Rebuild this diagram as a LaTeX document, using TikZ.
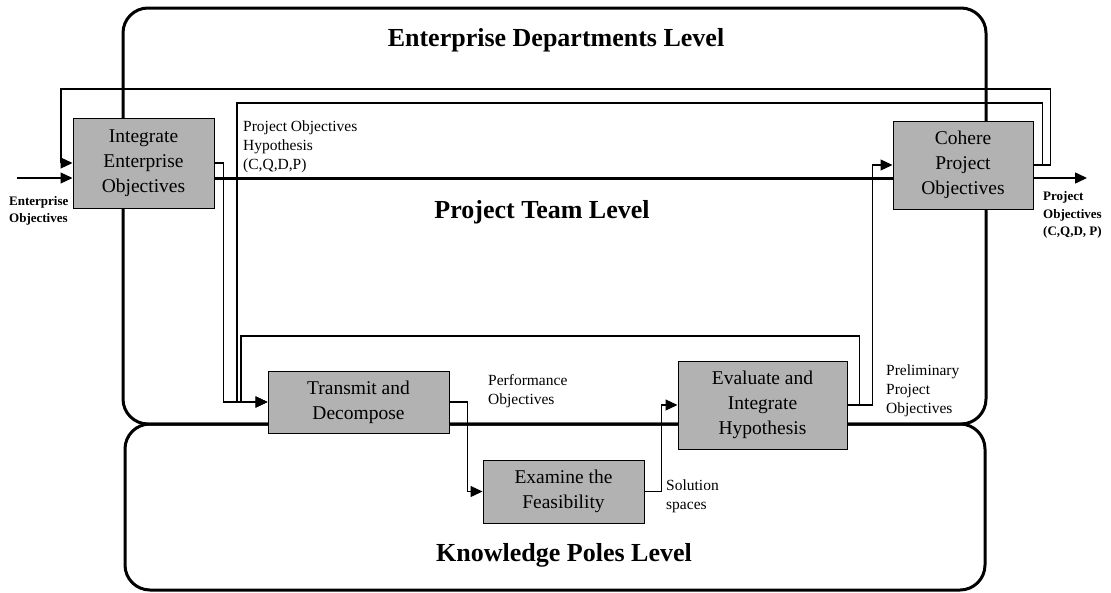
\documentclass[tikz,border=0pt]{standalone}
\usepackage{fontspec}
\setmainfont{Liberation Serif}
\usepackage{tikz}
\usetikzlibrary{arrows.meta}

\begin{document}
\begin{tikzpicture}[x=1pt, y=-1pt,
    box/.style={draw=black, line width=1pt, fill=black!30, align=center,
      inner sep=0pt, font=\fontsize{19.5}{25}\selectfont},
    flow/.style={line width=1.2pt, -{Triangle[length=12pt,width=11pt]}},
    band/.style={line width=3pt},
    level/.style={draw, line width=3pt, rounded corners=25pt},
    lbl/.style={align=left, inner sep=0pt, anchor=west,
      font=\fontsize{15.5}{19}\selectfont},
    lblb/.style={lbl, font=\bfseries\fontsize{13}{17.5}\selectfont},
    title/.style={font=\bfseries\fontsize{26}{30}\selectfont}]

  \useasboundingbox (0,0) rectangle (1111,592);

  % the two levels
  \draw [level] (123,8) rectangle (986,424);
  \draw [level] (125,424) rectangle (985,590);

  \node [title] (t-dept) at (556,40) {Enterprise Departments Level};
  \node [title] (t-team) at (542,212) {Project Team Level};
  \node [title] (t-know) at (564,555) {Knowledge Poles Level};

  % the activities
  \foreach \n/\x/\y/\w/\h/\t in {
    integ/143.5/163/141/90/{Integrate\\Enterprise\\Objectives},
    cohere/963/165/140/88/{Cohere\\Project\\Objectives},
    transmit/358.5/402/181/62/{Transmit and\\Decompose},
    examine/563.5/491.5/161/63/{Examine the\\Feasibility},
    evaluate/762.5/405/169/88/{Evaluate and\\Integrate\\Hypothesis}%
  } {
    \node [box, minimum width=\w pt, minimum height=\h pt] (\n) at (\x,\y) {\t};
  }

  % free ends and corners
  \coordinate (ein) at (17,178);
  \coordinate (pout) at (1087,178);
  \coordinate (fb-out) at (61,89);
  \coordinate (fb-in) at (237,103);
  \coordinate (fb-eval) at (241,336);

  % main line of the project team
  \draw [band] (integ.east |- ein) -- (cohere.west |- ein);
  \draw [flow] (ein) -- (ein -| integ.west);
  \draw [flow, line width=1.5pt] (cohere.east |- pout) -- (pout);

  % loops back from cohere
  \draw [flow] (cohere.east) -- ++(17,0) |- (fb-out) |- (integ.west);
  \draw [flow] (cohere.east) -- ++(9,0) |- (fb-in) |- (transmit.west);

  % down to the knowledge poles and back
  \draw [flow] (integ.east) -- ++(9,0) |- (transmit.west);
  \draw [flow] (transmit.east) -- ++(18,0) |- (examine.west);
  \draw [flow] (examine.east) -- ++(17,0) |- (evaluate.west);
  \draw [flow] (evaluate.east) -- ++(12,0) |- (fb-eval) |- (transmit.west);
  \draw [flow] (evaluate.east) -- ++(25,0) |- (cohere.west);

  % labels of the flows
  \node [lblb] (l-ein) at (9,211) {Enterprise\\Objectives};
  \node [lbl] (l-hyp) at (243,147) {Project Objectives\\Hypothesis\\(C,Q,D,P)};
  \node [lblb] (l-pout) at (1043,215) {Project\\Objectives\\(C,Q,D, P)};
  \node [lbl] (l-perf) at (488,391) {Performance\\Objectives};
  \node [lbl] (l-sol) at (666,496) {Solution\\spaces};
  \node [lbl] (l-pre) at (886,391) {Preliminary\\Project\\Objectives};
\end{tikzpicture}
\end{document}
